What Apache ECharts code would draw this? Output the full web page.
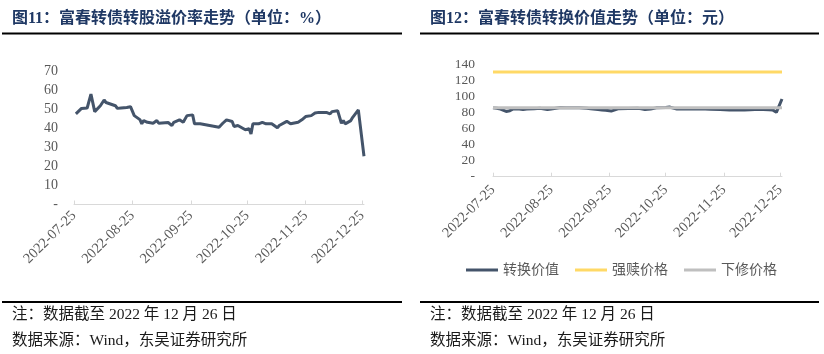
<!DOCTYPE html>
<html>
<head>
<meta charset="utf-8">
<script src="https://cdn.jsdelivr.net/npm/echarts@6/dist/echarts.min.js"></script>
<style>
  html, body { margin: 0; padding: 0; background: #fff; }
  #chart { width: 824px; height: 354px; }
</style>
</head>
<body>
<div id="chart"></div>
<script>
// 图11：转股溢价率（%）
const premiumDates = [
  '2022-07-26', '2022-07-27', '2022-07-29', '2022-08-01', '2022-08-02', '2022-08-03', '2022-08-04',
  '2022-08-05', '2022-08-08', '2022-08-10', '2022-08-11', '2022-08-12', '2022-08-16', '2022-08-17',
  '2022-08-19', '2022-08-22', '2022-08-23', '2022-08-24', '2022-08-26', '2022-08-29', '2022-08-30',
  '2022-08-31', '2022-09-02', '2022-09-05', '2022-09-07', '2022-09-08', '2022-09-09', '2022-09-13',
  '2022-09-15', '2022-09-16', '2022-09-19', '2022-09-21', '2022-09-23', '2022-09-26', '2022-09-27',
  '2022-09-30', '2022-10-10', '2022-10-12', '2022-10-14', '2022-10-17', '2022-10-18', '2022-10-20',
  '2022-10-24', '2022-10-25', '2022-10-26', '2022-10-27', '2022-10-28', '2022-10-31', '2022-11-02',
  '2022-11-04', '2022-11-07', '2022-11-10', '2022-11-11', '2022-11-15', '2022-11-17', '2022-11-21',
  '2022-11-23', '2022-11-25', '2022-11-28', '2022-11-30', '2022-12-01', '2022-12-02', '2022-12-06',
  '2022-12-08', '2022-12-09', '2022-12-12', '2022-12-14', '2022-12-15', '2022-12-16', '2022-12-19',
  '2022-12-20', '2022-12-21', '2022-12-23', '2022-12-26'
];
const premiumValues = [
  47.5, 47.0, 50.4, 50.6, 51.0, 57.9, 57.4,
  48.7, 51.8, 54.8, 53.5, 52.7, 51.8, 50.4,
  50.6, 50.9, 50.4, 51.3, 46.6, 44.5, 42.3,
  44.0, 43.1, 42.6, 44.0, 42.6, 43.5, 43.0,
  41.4, 43.1, 44.4, 43.1, 46.6, 47.0, 42.3,
  42.3, 40.5, 42.6, 44.4, 43.5, 40.9, 41.4,
  39.2, 38.4, 39.7, 37.0, 42.3, 42.3, 43.1,
  42.3, 42.3, 40.2, 41.4, 43.6, 42.3, 43.1,
  44.4, 46.1, 46.6, 48.0, 47.0, 48.3, 48.3,
  47.5, 48.7, 49.2, 42.6, 44.0, 42.3, 44.0,
  45.7, 45.4, 49.6, 25.3
];

// 图12：转换价值（元）
const convDates = [
  '2022-07-25', '2022-07-27', '2022-07-29', '2022-08-01', '2022-08-02', '2022-08-03', '2022-08-04',
  '2022-08-05', '2022-08-08', '2022-08-10', '2022-08-12', '2022-08-16', '2022-08-19', '2022-08-23',
  '2022-08-25', '2022-08-26', '2022-08-30', '2022-09-02', '2022-09-07', '2022-09-09', '2022-09-13',
  '2022-09-15', '2022-09-16', '2022-09-19', '2022-09-21', '2022-09-23', '2022-09-26', '2022-09-27',
  '2022-09-30', '2022-10-10', '2022-10-12', '2022-10-14', '2022-10-17', '2022-10-18', '2022-10-20',
  '2022-10-25', '2022-10-27', '2022-10-28', '2022-10-31', '2022-11-04', '2022-11-10', '2022-11-15',
  '2022-11-18', '2022-11-23', '2022-11-28', '2022-12-01', '2022-12-06', '2022-12-09', '2022-12-14',
  '2022-12-16', '2022-12-19', '2022-12-21', '2022-12-22', '2022-12-23', '2022-12-26'
];
const convValues = [
  85.5, 85.0, 84.0, 81.0, 80.5, 82.0, 83.5,
  84.5, 84.0, 83.5, 84.0, 84.5, 85.0, 83.5,
  84.0, 85.5, 86.0, 85.8, 85.5, 85.5, 85.0,
  84.5, 84.0, 83.5, 83.0, 82.5, 81.5, 82.5,
  84.5, 85.0, 84.5, 83.5, 84.0, 85.5, 85.5,
  86.0, 86.5, 84.5, 84.0, 84.0, 84.5, 84.0,
  83.8, 83.5, 83.0, 83.0, 83.0, 83.2, 83.8,
  83.5, 83.2, 83.0, 81.5, 80.0, 96.5
];
const redeemPrice = 130;  // 强赎价格
const resetPrice = 85.6;  // 下修价格

const xTickLabels = ['2022-07-25', '2022-08-25', '2022-09-25', '2022-10-25', '2022-11-25', '2022-12-25'];

const serifFont = '"Liberation Serif", "Noto Sans CJK SC", serif';
const labelColor = '#595959';
const lineBlue = '#44546A';

// x positions are days since the first tick date
const DAY = 24 * 3600 * 1000;
function toDay(s) {
  const p = s.split('-').map(Number);
  const b = xTickLabels[0].split('-').map(Number);
  return Math.round((Date.UTC(p[0], p[1] - 1, p[2]) - Date.UTC(b[0], b[1] - 1, b[2])) / DAY);
}

const tickDays = xTickLabels.map(toDay);
const xMax = toDay('2022-12-26');

function makeXAxis(gridIndex, margin) {
  return {
    type: 'value',
    gridIndex: gridIndex,
    min: 0,
    max: xMax,
    axisLine: { show: true, onZero: false, lineStyle: { color: '#D9D9D9', width: 1 } },
    axisTick: { show: true, inside: true, length: 4, customValues: tickDays, lineStyle: { color: '#D9D9D9' } },
    axisLabel: {
      customValues: tickDays,
      rotate: 45,
      margin: margin,
      color: labelColor,
      fontFamily: serifFont,
      fontSize: 14.5,
      formatter: function (v) {
        const i = tickDays.indexOf(Math.round(v));
        return i >= 0 ? xTickLabels[i] : '';
      }
    },
    splitLine: { show: false }
  };
}
function makeYAxis(gridIndex, max, interval, fontSize, margin) {
  return {
    type: 'value',
    gridIndex: gridIndex,
    min: 0,
    max: max,
    interval: interval,
    axisLine: { show: false },
    axisTick: { show: false },
    splitLine: { show: false },
    axisLabel: {
      color: labelColor,
      fontFamily: serifFont,
      fontSize: fontSize,
      margin: margin,
      formatter: function (v) { return v === 0 ? '-' : v; }
    }
  };
}

const chart = echarts.init(document.getElementById('chart'));

const option = {
  backgroundColor: '#fff',
  animation: false,
  grid: [
    { left: 74, top: 71, width: 290, height: 133.5 },
    { left: 493, top: 64, width: 289, height: 112.7 }
  ],
  xAxis: [makeXAxis(0, 9), makeXAxis(1, 11)],
  yAxis: [makeYAxis(0, 70, 10, 14, 16), makeYAxis(1, 140, 20, 13.5, 18)],
  legend: {
    data: ['转换价值', '强赎价格', '下修价格'],
    left: 461,
    top: 258,
    icon: 'rect',
    itemWidth: 32,
    itemHeight: 3,
    itemGap: 16,
    textStyle: { fontSize: 14, color: labelColor, fontFamily: serifFont }
  },
  series: [
    {
      name: '转股溢价率',
      type: 'line',
      xAxisIndex: 0,
      yAxisIndex: 0,
      showSymbol: false,
      data: premiumDates.map((d, i) => [toDay(d), premiumValues[i]]),
      lineStyle: { color: lineBlue, width: 3 },
      itemStyle: { color: lineBlue }
    },
    {
      name: '转换价值',
      type: 'line',
      xAxisIndex: 1,
      yAxisIndex: 1,
      showSymbol: false,
      data: convDates.map((d, i) => [toDay(d), convValues[i]]),
      lineStyle: { color: lineBlue, width: 3 },
      itemStyle: { color: lineBlue }
    },
    {
      name: '强赎价格',
      type: 'line',
      xAxisIndex: 1,
      yAxisIndex: 1,
      showSymbol: false,
      data: [[toDay(convDates[0]), redeemPrice], [toDay(convDates[convDates.length - 1]), redeemPrice]],
      lineStyle: { color: '#FFD966', width: 3 },
      itemStyle: { color: '#FFD966' }
    },
    {
      name: '下修价格',
      type: 'line',
      xAxisIndex: 1,
      yAxisIndex: 1,
      showSymbol: false,
      data: [[toDay(convDates[0]), resetPrice], [toDay(convDates[convDates.length - 1]), resetPrice]],
      lineStyle: { color: '#BFBFBF', width: 3 },
      itemStyle: { color: '#BFBFBF' }
    }
  ],
  graphic: [
    // titles
    { type: 'text', style: { x: 12, y: 18.5, verticalAlign: 'middle', text: '图11：富春转债转股溢价率走势（单位：%）', font: 'bold 16px ' + serifFont, fill: '#1F3864' } },
    { type: 'text', style: { x: 430, y: 18.5, verticalAlign: 'middle', text: '图12：富春转债转换价值走势（单位：元）', font: 'bold 16px ' + serifFont, fill: '#1F3864' } },
    // rules
    { type: 'line', shape: { x1: 2, y1: 33.5, x2: 402, y2: 33.5 }, style: { stroke: '#000', lineWidth: 2 } },
    { type: 'line', shape: { x1: 420, y1: 33.5, x2: 819, y2: 33.5 }, style: { stroke: '#000', lineWidth: 2 } },
    { type: 'line', shape: { x1: 2, y1: 302, x2: 402, y2: 302 }, style: { stroke: '#000', lineWidth: 2 } },
    { type: 'line', shape: { x1: 420, y1: 302, x2: 819, y2: 302 }, style: { stroke: '#000', lineWidth: 2 } },
    // notes
    { type: 'text', style: { x: 12, y: 315, verticalAlign: 'middle', text: '注：数据截至 2022 年 12 月 26 日', font: '15.5px ' + serifFont, fill: '#1a1a1a' } },
    { type: 'text', style: { x: 12, y: 341, verticalAlign: 'middle', text: '数据来源：Wind，东吴证券研究所', font: '15.5px ' + serifFont, fill: '#1a1a1a' } },
    { type: 'text', style: { x: 430, y: 315, verticalAlign: 'middle', text: '注：数据截至 2022 年 12 月 26 日', font: '15.5px ' + serifFont, fill: '#1a1a1a' } },
    { type: 'text', style: { x: 430, y: 341, verticalAlign: 'middle', text: '数据来源：Wind，东吴证券研究所', font: '15.5px ' + serifFont, fill: '#1a1a1a' } }
  ]
};

chart.setOption(option);
</script>
</body>
</html>
